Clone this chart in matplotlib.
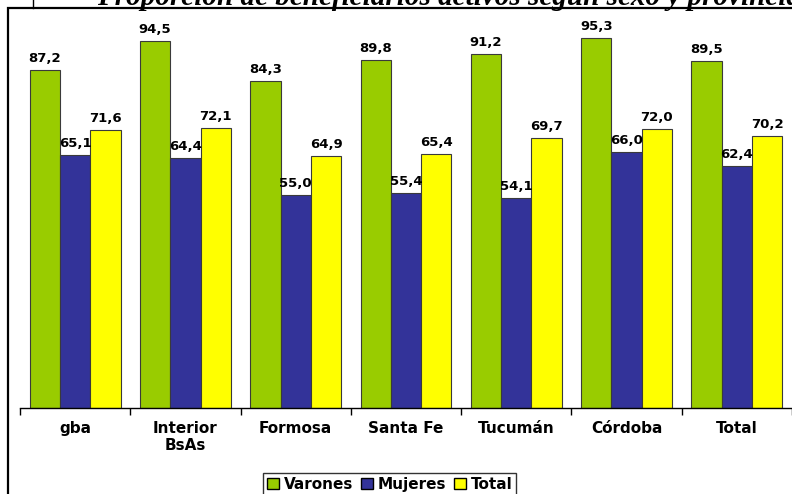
import matplotlib
matplotlib.use("Agg")
import matplotlib.pyplot as plt
import numpy as np
from matplotlib.patches import Rectangle, Patch
from matplotlib.lines import Line2D

categories = ["gba", "Interior\nBsAs", "Formosa", "Santa Fe", "Tucumán", "Córdoba", "Total"]
varones = [87.2, 94.5, 84.3, 89.8, 91.2, 95.3, 89.5]
mujeres = [65.1, 64.4, 55.0, 55.4, 54.1, 66.0, 62.4]
total = [71.6, 72.1, 64.9, 65.4, 69.7, 72.0, 70.2]
series_names = ["Varones", "Mujeres", "Total"]
colors = ["#99CC00", "#333399", "#FFFF00"]
title = "Proporción de beneficiarios activos según sexo y provincia"

W, H = 792, 494
fig = plt.figure(figsize=(W / 100, H / 100), dpi=100)
ax = fig.add_axes([20 / W, 1 - 408 / H, 1 - 20 / W, 388 / H])

x = np.arange(len(categories))
bw = 0.275
for i, (vals, col) in enumerate(zip([varones, mujeres, total], colors)):
    pos = x + (i - 1) * bw
    ax.bar(pos, vals, width=bw, color=col, edgecolor="#3a3a3a", linewidth=0.8, zorder=2)
    for p, v in zip(pos, vals):
        ax.text(p, v + 1.3, f"{v:.1f}".replace(".", ","), ha="center", va="bottom",
                fontsize=9.5, fontweight="bold", family="DejaVu Sans", zorder=3)

ax.set_xlim(-0.5, len(categories) - 0.5)
ax.set_ylim(0, 100)
ax.set_yticks([])
for s in ["left", "right", "top"]:
    ax.spines[s].set_visible(False)
ax.spines["bottom"].set_linewidth(1.0)
ax.set_xticks(x)
ax.set_xticklabels(categories, fontsize=11, fontweight="bold", family="DejaVu Sans")
ax.tick_params(axis="x", length=0, pad=9)
ax.set_xticks(np.arange(-0.5, len(categories) - 0.4, 1), minor=True)
ax.tick_params(axis="x", which="minor", length=5, width=1.0, direction="out")
ax.patch.set_alpha(0)

# Outer border
fig.patches.append(Rectangle((8 / W, -0.05), 1.1, 1 - 8 / H + 0.05, transform=fig.transFigure,
                             fill=False, edgecolor="black", linewidth=1.6, zorder=0))
fig.lines.append(Line2D([33 / W, 33 / W], [1 - 8 / H, 1.0], transform=fig.transFigure,
                        color="black", linewidth=1.0))

# Title (cut off at top, as in the reference)
fig.text(97 / W, 1 - 5 / H, title, ha="left", va="baseline", fontsize=21,
         fontweight="bold", fontstyle="italic", family="Liberation Serif")

handles = [Patch(facecolor=c, edgecolor="black", linewidth=1.0) for c in colors]
leg = fig.legend(handles, series_names, loc="upper center", bbox_to_anchor=(389.5 / W, 1 - 473 / H),
                 ncol=3, frameon=True, fancybox=False, edgecolor="black",
                 prop={"family": "DejaVu Sans", "weight": "bold", "size": 11},
                 handlelength=0.8, handleheight=0.8, handletextpad=0.3, columnspacing=0.5,
                 borderpad=0.25, borderaxespad=0)
leg.get_frame().set_linewidth(1.0)

fig.savefig("out.png", dpi=100)
